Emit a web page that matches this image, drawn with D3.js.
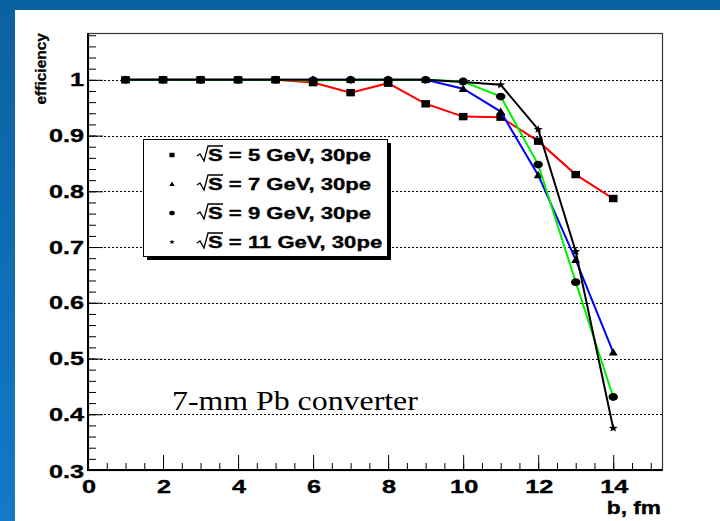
<!DOCTYPE html>
<html>
<head>
<meta charset="utf-8">
<script src="https://cdn.jsdelivr.net/npm/d3@7"></script>
<style>
  html, body { margin: 0; padding: 0; background: #fff; }
  svg { display: block; }
</style>
</head>
<body>
<script>
// Impact parameter b (fm)
const bValues = [1, 2, 3, 4, 5, 6, 7, 8, 9, 10, 11, 12, 13, 14];
// Efficiency per beam energy, 30 photoelectrons threshold
const eff5GeV  = [1, 1, 1, 1, 1, 0.995, 0.977, 0.994, 0.957, 0.934, 0.933, 0.890, 0.830, 0.787];
const eff7GeV  = [1, 1, 1, 1, 1, 1, 1, 1, 1, 0.984, 0.943, 0.829, 0.677, 0.511];
const eff9GeV  = [1, 1, 1, 1, 1, 0.999, 1, 1, 1, 0.997, 0.970, 0.848, 0.637, 0.431];
const eff11GeV = [1, 1, 1, 1, 1, 1, 1, 1, 1, 0.996, 0.991, 0.911, 0.692, 0.375];
const seriesNames = ["5", "7", "9", "11"];
const xTicks = [0, 2, 4, 6, 8, 10, 12, 14];
const yTicks = [0.3, 0.4, 0.5, 0.6, 0.7, 0.8, 0.9, 1];

const W = 720, H = 521;
const svg = d3.select("body").append("svg").attr("width", W).attr("height", H);

// slide background: blue bands on top and left
const defs = svg.append("defs");
const grad = defs.append("linearGradient").attr("id", "bandGrad")
  .attr("x1", 0).attr("y1", 0).attr("x2", 0).attr("y2", 1);
grad.append("stop").attr("offset", "0%").attr("stop-color", "#0b61a0");
grad.append("stop").attr("offset", "100%").attr("stop-color", "#1479c8");
svg.append("rect").attr("x", 0).attr("y", 0).attr("width", W).attr("height", H).attr("fill", "#fff");
svg.append("rect").attr("x", 0).attr("y", 0).attr("width", 15).attr("height", H).attr("fill", "url(#bandGrad)");
svg.append("rect").attr("x", 0).attr("y", 0).attr("width", W).attr("height", 10).attr("fill", "#0b62a0");

const pL = 88, pR = 662, pT = 33, pB = 470;
const x = d3.scaleLinear().domain([0, 15.3]).range([pL, pR]);
const y = d3.scaleLinear().domain([0.3, 1.084]).range([pB, pT]);

const SX = 1.33; // horizontal stretch of the bold labels
const boldFont = "'Liberation Sans', Arial, Helvetica, sans-serif";

// horizontal dotted grid
svg.append("g").selectAll("line").data(yTicks.filter(v => v > 0.3)).join("line")
  .attr("x1", pL).attr("x2", pR)
  .attr("y1", d => Math.round(y(d)) + 0.5).attr("y2", d => Math.round(y(d)) + 0.5)
  .attr("stroke", "#000").attr("stroke-width", 1).attr("stroke-dasharray", "2,2");

// frame
svg.append("rect").attr("x", pL + 0.5).attr("y", pT + 0.5)
  .attr("width", pR - pL).attr("height", pB - pT)
  .attr("fill", "none").attr("stroke", "#333").attr("stroke-width", 1.2);

// y axis with inward ticks
const yAxis = d3.axisRight(y).tickValues(yTicks).tickSize(15).tickFormat("");
const yMinor = d3.axisRight(y).tickValues(d3.range(0.30, 1.081, 0.02)).tickSize(8).tickFormat("");
svg.append("g").attr("transform", `translate(${pL},0)`).call(yMinor)
  .call(g => g.select(".domain").remove()).selectAll("line").attr("stroke", "#000");
svg.append("g").attr("transform", `translate(${pL},0)`).call(yAxis)
  .call(g => g.select(".domain").remove()).selectAll("line").attr("stroke", "#000");
svg.append("line").attr("x1", pL).attr("x2", pL).attr("y1", pT).attr("y2", pB + 1)
  .attr("stroke", "#000").attr("stroke-width", 2);

// x axis with inward ticks
const xAxis = d3.axisTop(x).tickValues(xTicks).tickSize(15).tickFormat("");
const xMinor = d3.axisTop(x).tickValues(d3.range(0, 15.26, 0.5)).tickSize(7).tickFormat("");
svg.append("g").attr("transform", `translate(0,${pB})`).call(xMinor)
  .call(g => g.select(".domain").remove()).selectAll("line").attr("stroke", "#000");
svg.append("g").attr("transform", `translate(0,${pB})`).call(xAxis)
  .call(g => g.select(".domain").remove()).selectAll("line").attr("stroke", "#000");
svg.append("line").attr("x1", pL).attr("x2", pR).attr("y1", pB).attr("y2", pB)
  .attr("stroke", "#000").attr("stroke-width", 2);

// stretched bold text helper
function label(px, py, txt, size, anchor, sx) {
  svg.append("text")
    .attr("transform", `translate(${px},${py}) scale(${sx},1)`)
    .attr("text-anchor", anchor)
    .attr("font-family", boldFont).attr("font-weight", "bold")
    .attr("font-size", size).attr("fill", "#000")
    .attr("stroke", "#000").attr("stroke-width", 0.35)
    .text(txt);
}

// y tick labels
yTicks.forEach(v => {
  const py = v === 0.3 ? y(v) + 8 : y(v) + 6.5;
  label(pL - 4, py, v === 1 ? "1" : d3.format(".1f")(v), 19, "end", SX);
});
// x tick labels
xTicks.forEach(v => label(x(v) + 1, pB + 23, String(v), 19, "middle", SX));

// axis titles
label(pR - 1, pB + 44, "b, fm", 18, "end", 1.26);
svg.append("text")
  .attr("transform", `translate(${46},${pT}) rotate(-90)`)
  .attr("text-anchor", "end")
  .attr("font-family", boldFont).attr("font-weight", "bold")
  .attr("font-size", 15.5).attr("stroke", "#000").attr("stroke-width", 0.3)
  .text("efficiency");

// series
const series = [
  { name: seriesNames[0], vals: eff5GeV,  color: "#ff0000", marker: "square" },
  { name: seriesNames[1], vals: eff7GeV,  color: "#0000ff", marker: "triangle" },
  { name: seriesNames[2], vals: eff9GeV,  color: "#00ee00", marker: "circle" },
  { name: seriesNames[3], vals: eff11GeV, color: "#000000", marker: "star" }
];

function drawMarker(g, type, cx, cy, s) {
  if (type === "square") {
    g.append("rect").attr("x", cx - 4.3 * s).attr("y", cy - 3.7 * s)
      .attr("width", 8.6 * s).attr("height", 7.4 * s).attr("fill", "#000");
  } else if (type === "triangle") {
    g.append("path").attr("d", `M${cx - 4.5 * s},${cy + 3.2 * s}L${cx + 4.5 * s},${cy + 3.2 * s}L${cx},${cy - 4.2 * s}Z`)
      .attr("fill", "#000");
  } else if (type === "circle") {
    g.append("ellipse").attr("cx", cx).attr("cy", cy).attr("rx", 4.7 * s).attr("ry", 3.9 * s).attr("fill", "#000");
  } else {
    const pts = [];
    for (let i = 0; i < 10; i++) {
      const r = (i % 2 === 0 ? 4.2 : 1.8) * s;
      const a = -Math.PI / 2 + i * Math.PI / 5;
      pts.push([cx + r * Math.cos(a) * 1.15, cy + r * Math.sin(a)]);
    }
    g.append("path").attr("d", "M" + pts.map(p => p.join(",")).join("L") + "Z").attr("fill", "#000");
  }
}

const line = d3.line().x((d, i) => x(bValues[i])).y(d => y(d));
series.forEach(s => {
  const g = svg.append("g");
  g.append("path").datum(s.vals).attr("d", line)
    .attr("fill", "none").attr("stroke", s.color).attr("stroke-width", 2);
  s.vals.forEach((v, i) => drawMarker(g, s.marker, x(bValues[i]), y(v), 1));
});

// legend
const lg = { x: 143, y: 139, w: 244, h: 117 };
svg.append("rect").attr("x", lg.x + 4).attr("y", lg.y + 4).attr("width", lg.w).attr("height", lg.h).attr("fill", "#000");
svg.append("rect").attr("x", lg.x + 0.5).attr("y", lg.y + 0.5).attr("width", lg.w).attr("height", lg.h)
  .attr("fill", "#fff").attr("stroke", "#000").attr("stroke-width", 1);

series.forEach((s, i) => {
  const cy = 155 + i * 29;
  const g = svg.append("g");
  drawMarker(g, s.marker, 172, cy, 0.6);
  // radical sign with overline on S
  const rx = 197, base = cy + 6;
  g.append("path")
    .attr("d", `M${rx},${cy + 1}L${rx + 3},${cy - 1}L${rx + 7},${base}L${rx + 11},${cy - 9}L${rx + 26},${cy - 9}`)
    .attr("fill", "none").attr("stroke", "#000").attr("stroke-width", 1.3);
  label(rx + 11, base, `S = ${s.name} GeV, 30pe`, 17, "start", 1.3);
});

// annotation
svg.append("text")
  .attr("transform", `translate(172,410) scale(1.18,1)`)
  .attr("font-family", "'Liberation Serif', 'Times New Roman', serif")
  .attr("font-size", 27).attr("fill", "#000")
  .text("7-mm Pb converter");
</script>
</body>
</html>
